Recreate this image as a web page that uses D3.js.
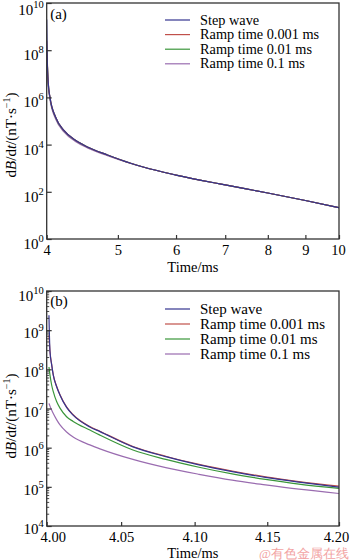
<!DOCTYPE html>
<html><head><meta charset="utf-8">
<script src="https://cdn.jsdelivr.net/npm/d3@7"></script>
<style>
html,body{margin:0;padding:0;background:#fff;}
svg{display:block;}
text{font-family:"Liberation Serif","Times New Roman",serif;fill:#000;}
</style></head>
<body>
<svg id="chart" width="350" height="560"></svg>
<script>
// ---------- data ----------
const seriesNames = ["Step wave","Ramp time 0.001 ms","Ramp time 0.01 ms","Ramp time 0.1 ms"];
const seriesColors = ["#34348f","#c0504a","#3a963a","#9a6cb0"];

// Panel (a): time (ms) and log10(dB/dt)
const timeA  = [4.0, 4.0075, 4.02, 4.0415, 4.114, 4.222, 4.383, 4.545, 4.84, 5.205, 5.427, 6, 7, 8, 9, 10];
const stepA  = [9.3, 7.58, 6.6, 6.0, 5.16, 4.60, 4.17, 3.90, 3.56, 3.21, 3.04, 2.71, 2.29, 1.95, 1.63, 1.33];
const ramp1A = [8.4, 7.58, 6.6, 6.0, 5.16, 4.60, 4.17, 3.90, 3.56, 3.21, 3.04, 2.71, 2.29, 1.95, 1.63, 1.33];
const ramp2A = [8.0, 7.45, 6.57, 5.98, 5.15, 4.59, 4.17, 3.90, 3.56, 3.21, 3.04, 2.71, 2.29, 1.95, 1.63, 1.33];
const ramp3A = [7.1, 6.95, 6.45, 5.90, 5.08, 4.54, 4.12, 3.86, 3.53, 3.20, 3.04, 2.71, 2.29, 1.95, 1.63, 1.33];

// Panel (b)
const timeB  = [4.0015, 4.0022, 4.0033, 4.0044, 4.0067, 4.0089, 4.0133, 4.0177, 4.0289, 4.0357, 4.0580, 4.0803, 4.1030, 4.1258, 4.1488, 4.1720, 4.20];
const stepB  = [9.38, 8.45, 8.12, 7.85, 7.55, 7.34, 7.03, 6.83, 6.53, 6.41, 6.02, 5.77, 5.56, 5.39, 5.24, 5.12, 4.99];
const ramp1B = [8.87, 8.46, 8.13, 7.86, 7.56, 7.35, 7.04, 6.84, 6.54, 6.42, 6.03, 5.78, 5.575, 5.405, 5.255, 5.135, 5.02];
const ramp2B = [8.06, 7.85, 7.60, 7.43, 7.17, 7.01, 6.79, 6.67, 6.45, 6.32, 5.94, 5.70, 5.50, 5.33, 5.19, 5.07, 4.96];
const ramp3B = [7.13, 7.06, 6.96, 6.87, 6.71, 6.58, 6.40, 6.27, 6.07, 5.97, 5.70, 5.49, 5.32, 5.17, 5.05, 4.94, 4.83];

const xTicksA = [4,5,6,7,8,9,10];
const yTicksA = [0,2,4,6,8,10];      // exponents
const xTicksB = [4.00,4.05,4.10,4.15,4.20];
const yTicksB = [4,5,6,7,8,9,10];    // exponents
const watermark = "@有色金属在线";

// ---------- drawing ----------
const svg = d3.select("#chart");
const frameColor = "#333";

function drawPanel(cfg){
  const {top,bottom,left,right,xDomain,yExpDomain,time,series,xTicks,xFmt,yTicks,minor,label,legendY,legendStep,xLabelY,tickLabelY,yLabelY,labelOffset} = cfg;
  const x = d3.scaleLog().domain(xDomain).range([left,right]);
  const y = d3.scaleLog().domain([Math.pow(10,yExpDomain[0]),Math.pow(10,yExpDomain[1])]).range([bottom,top]);
  const g = svg.append("g");
  const clipId = "clip"+label;
  g.append("clipPath").attr("id",clipId).append("rect")
    .attr("x",left).attr("y",top).attr("width",right-left).attr("height",bottom-top);

  const line = d3.line().x(d=>x(d[0])).y(d=>y(Math.pow(10,d[1]))).curve(d3.curveMonotoneX);
  [3,2,1,0].forEach(i=>{
    const pts = time.map((t,j)=>[t,series[i][j]]);
    g.append("path").attr("clip-path",`url(#${clipId})`)
      .attr("d",line(pts)).attr("fill","none")
      .attr("stroke",seriesColors[i]).attr("stroke-width",1.2);
  });

  const xAxis = d3.axisBottom(x).tickValues(xTicks).tickFormat(xFmt).tickSize(-4).tickPadding(6);
  const xg = g.append("g").attr("transform",`translate(0,${bottom})`).call(xAxis);
  xg.select(".domain").remove();
  xg.selectAll(".tick line").attr("stroke",frameColor).attr("stroke-width",1.2);
  xg.selectAll(".tick text").attr("font-size",14.5).attr("font-family","Liberation Serif").attr("fill","#000")
    .attr("dy",null).attr("y",tickLabelY-bottom);
  const n = xTicks.length;
  if(cfg.firstLabelShift) xg.selectAll(".tick text").filter((d,i)=>i===0).attr("dx",cfg.firstLabelShift);
  if(cfg.lastLabelShift) xg.selectAll(".tick text").filter((d,i)=>i===n-1).attr("dx",cfg.lastLabelShift);

  const yAxis = d3.axisLeft(y).tickValues(yTicks.map(e=>Math.pow(10,e))).tickFormat("").tickSize(-5);
  const yg = g.append("g").attr("transform",`translate(${left},0)`).call(yAxis);
  yg.select(".domain").remove();
  yg.selectAll(".tick line").attr("stroke",frameColor).attr("stroke-width",1.2);
  yTicks.forEach(e=>{
    let yy = y(Math.pow(10,e))+labelOffset;
    if(e===yExpDomain[1]) yy += 2;
    const t = g.append("text").attr("x",left-3).attr("y",yy)
      .attr("text-anchor","end").attr("font-size",15);
    t.append("tspan").text("10");
    t.append("tspan").attr("dy",-7).attr("font-size",10.5).text(e);
  });
  if(minor){
    const mv=[];
    for(let e=yExpDomain[0]; e<yExpDomain[1]; e++) for(let k=2;k<=9;k++) mv.push(k*Math.pow(10,e));
    g.selectAll(".minor").data(mv).enter().append("line")
      .attr("x1",left).attr("x2",left+2.5).attr("y1",d=>y(d)).attr("y2",d=>y(d))
      .attr("stroke",frameColor).attr("stroke-width",0.9);
  }

  g.append("rect").attr("x",left).attr("y",top).attr("width",right-left).attr("height",bottom-top)
    .attr("fill","none").attr("stroke",frameColor).attr("stroke-width",1.3);

  g.append("text").attr("x",left+3.5).attr("y",top+cfg.panelLabelDy).attr("font-size",15).text(`(${label})`);

  seriesNames.forEach((nm,i)=>{
    const ly = legendY + i*legendStep;
    g.append("line").attr("x1",165).attr("x2",190).attr("y1",ly).attr("y2",ly)
      .attr("stroke",seriesColors[i]).attr("stroke-width",1.2);
    g.append("text").attr("x",200).attr("y",ly+4.5).attr("font-size",cfg.legendFont).text(nm);
  });

  g.append("text").attr("x",(left+right)/2).attr("y",xLabelY).attr("text-anchor","middle")
    .attr("font-size",14.5).text("Time/ms");

  const yl = g.append("text").attr("transform",`translate(16,${yLabelY}) rotate(-90)`)
    .attr("text-anchor","middle").attr("font-size",15);
  yl.append("tspan").text("d");
  yl.append("tspan").attr("font-style","italic").text("B");
  yl.append("tspan").text("/d");
  yl.append("tspan").attr("font-style","italic").text("t");
  yl.append("tspan").text("/(nT·s");
  yl.append("tspan").attr("dy",-6).attr("font-size",10).text("−1");
  yl.append("tspan").attr("dy",6).text(")");
}

drawPanel({top:3,bottom:239,left:46.7,right:339,xDomain:[4,10],yExpDomain:[0,10],
  time:timeA,series:[stepA,ramp1A,ramp2A,ramp3A],xTicks:xTicksA,xFmt:d3.format("d"),
  yTicks:yTicksA,minor:false,label:"a",legendY:20,legendStep:14.6,legendFont:14.3,xLabelY:272,tickLabelY:255,
  yLabelY:135,labelOffset:10,panelLabelDy:16,lastLabelShift:-1});

drawPanel({top:291,bottom:526,left:46.7,right:339,xDomain:[4.0,4.2],yExpDomain:[4,10],
  time:timeB,series:[stepB,ramp1B,ramp2B,ramp3B],xTicks:xTicksB,xFmt:d3.format(".2f"),
  yTicks:yTicksB,minor:true,label:"b",legendY:309,legendStep:15,legendFont:15,xLabelY:558,tickLabelY:542,
  yLabelY:416,labelOffset:8,panelLabelDy:15,firstLabelShift:6,lastLabelShift:-3});

svg.append("text").attr("x",349).attr("y",558).attr("text-anchor","end")
  .attr("font-family","'Noto Sans CJK SC'").attr("font-size",13)
  .style("fill","#f2a3a3").text(watermark);
</script>
</body></html>
